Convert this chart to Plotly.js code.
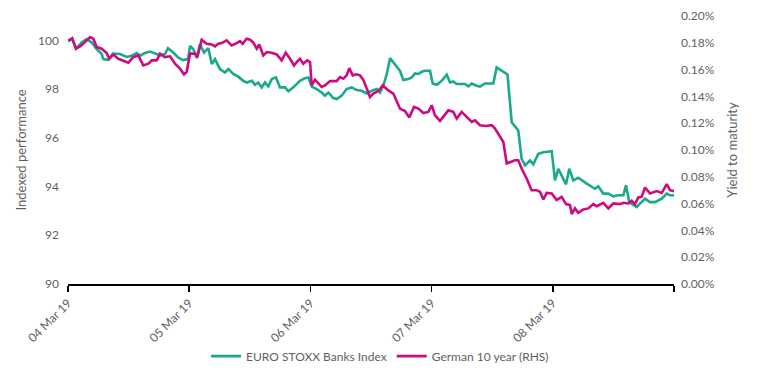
<!DOCTYPE html>
<html>
<head>
<meta charset="utf-8">
<script src="https://cdn.plot.ly/plotly-3.0.1.min.js"></script>
<style>html,body{margin:0;padding:0;background:#fff;}#chart{width:757px;height:378px;}</style>
</head>
<body>
<div id="chart"></div>
<script>
// x positions in trading days since 04 Mar 19
const tickVals = [0, 1, 2, 3, 4, 5];
const tickLabels = ["04 Mar 19", "05 Mar 19", "06 Mar 19", "07 Mar 19", "08 Mar 19", ""];

const bankName = "EURO STOXX Banks Index";
const bankT = [0.002,0.035,0.066,0.113,0.154,0.196,0.237,0.278,0.291,0.330,0.371,0.429,0.484,0.526,0.567,0.594,0.635,0.677,0.732,0.759,0.800,0.825,0.869,0.908,0.949,0.990,1.007,1.034,1.062,1.089,1.122,1.158,1.186,1.213,1.254,1.295,1.323,1.364,1.405,1.446,1.474,1.516,1.543,1.570,1.598,1.625,1.653,1.681,1.716,1.749,1.790,1.818,1.859,1.914,1.955,1.983,2.011,2.052,2.093,2.120,2.148,2.189,2.217,2.258,2.298,2.341,2.382,2.423,2.464,2.506,2.547,2.574,2.602,2.630,2.657,2.698,2.739,2.767,2.808,2.836,2.863,2.891,2.919,2.946,2.987,3.009,3.042,3.083,3.125,3.152,3.179,3.207,3.248,3.276,3.303,3.331,3.372,3.399,3.441,3.482,3.509,3.537,3.578,3.626,3.661,3.715,3.743,3.771,3.812,3.839,3.880,3.922,3.991,4.018,4.045,4.073,4.109,4.136,4.169,4.210,4.241,4.280,4.348,4.375,4.417,4.458,4.499,4.540,4.582,4.604,4.631,4.692,4.719,4.761,4.802,4.843,4.899,4.940,4.967,5.000];
const bankV = [99.95,100.09,99.66,99.91,100.05,99.91,99.64,99.44,99.23,99.20,99.46,99.44,99.32,99.37,99.48,99.37,99.48,99.54,99.44,99.37,99.44,99.68,99.50,99.30,99.19,99.23,99.77,99.64,99.27,99.84,99.50,99.68,99.03,99.23,98.82,98.68,98.82,98.62,98.51,98.34,98.27,98.34,98.18,98.27,98.07,98.27,98.11,98.41,98.48,98.07,98.07,97.91,98.07,98.34,98.45,98.48,98.10,98.00,97.86,97.73,97.86,97.63,97.59,97.73,98.00,98.07,97.96,97.93,97.82,97.93,98.00,97.86,98.14,98.62,99.27,99.00,98.75,98.37,98.41,98.48,98.64,98.62,98.71,98.75,98.75,98.23,98.18,98.34,98.59,98.27,98.31,98.21,98.21,98.21,98.11,98.23,98.14,98.10,98.23,98.23,98.23,98.89,98.75,98.60,96.64,96.30,95.14,94.87,95.07,94.91,95.34,95.41,95.45,94.25,94.73,94.46,94.09,94.73,94.25,94.36,94.25,94.12,93.91,94.01,93.71,93.71,93.60,93.64,93.64,94.05,93.36,93.16,93.30,93.50,93.36,93.36,93.50,93.71,93.64,93.64];

const bundName = "German 10 year (RHS)";
const bundT = [0.002,0.035,0.066,0.099,0.140,0.182,0.209,0.237,0.278,0.319,0.341,0.374,0.415,0.456,0.498,0.539,0.580,0.621,0.663,0.691,0.732,0.759,0.800,0.842,0.883,0.924,0.957,0.979,1.007,1.048,1.067,1.103,1.144,1.186,1.213,1.240,1.268,1.309,1.350,1.392,1.419,1.441,1.474,1.502,1.526,1.557,1.578,1.611,1.640,1.681,1.722,1.763,1.796,1.832,1.865,1.887,1.914,1.941,1.974,1.997,2.011,2.038,2.065,2.093,2.120,2.162,2.217,2.244,2.272,2.299,2.321,2.349,2.382,2.409,2.436,2.464,2.492,2.519,2.560,2.597,2.643,2.684,2.739,2.780,2.816,2.855,2.891,2.932,2.973,3.001,3.028,3.069,3.097,3.138,3.179,3.207,3.248,3.290,3.331,3.358,3.399,3.449,3.496,3.523,3.564,3.592,3.620,3.647,3.688,3.715,3.743,3.784,3.825,3.866,3.894,3.922,3.950,3.991,4.032,4.073,4.109,4.142,4.156,4.183,4.210,4.252,4.293,4.334,4.362,4.417,4.458,4.499,4.554,4.582,4.623,4.650,4.678,4.705,4.733,4.761,4.802,4.857,4.899,4.940,4.967,5.000];
const bundV = [0.1818,0.1830,0.1756,0.1773,0.1805,0.1842,0.1830,0.1768,0.1756,0.1723,0.1681,0.1713,0.1681,0.1664,0.1652,0.1693,0.1706,0.1631,0.1644,0.1669,0.1669,0.1719,0.1693,0.1699,0.1644,0.1607,0.1565,0.1582,0.1719,0.1719,0.1693,0.1823,0.1793,0.1788,0.1773,0.1793,0.1798,0.1818,0.1781,0.1798,0.1813,0.1793,0.1830,0.1823,0.1805,0.1756,0.1788,0.1706,0.1731,0.1726,0.1713,0.1669,0.1726,0.1681,0.1631,0.1656,0.1681,0.1644,0.1669,0.1656,0.1482,0.1525,0.1495,0.1470,0.1482,0.1514,0.1514,0.1544,0.1532,0.1557,0.1611,0.1557,0.1565,0.1557,0.1525,0.1458,0.1395,0.1421,0.1440,0.1482,0.1445,0.1421,0.1309,0.1291,0.1242,0.1321,0.1309,0.1276,0.1284,0.1334,0.1259,0.1217,0.1246,0.1296,0.1284,0.1234,0.1284,0.1246,0.1209,0.1222,0.1185,0.1179,0.1185,0.1160,0.1097,0.1060,0.0899,0.0911,0.0924,0.0924,0.0862,0.0787,0.0700,0.0700,0.0688,0.0631,0.0680,0.0676,0.0626,0.0650,0.0596,0.0589,0.0522,0.0564,0.0531,0.0556,0.0564,0.0596,0.0581,0.0606,0.0564,0.0601,0.0596,0.0606,0.0601,0.0621,0.0596,0.0646,0.0650,0.0720,0.0676,0.0693,0.0680,0.0745,0.0700,0.0693];

const green = "#19a98b";
const magenta = "#cf0a80";
const textColor = "#5f5f5f";
const fontFam = "Lato, 'Open Sans', sans-serif";

const traces = [
  {x: bankT, y: bankV, name: bankName, type: "scatter", mode: "lines",
   line: {color: green, width: 2.6}, yaxis: "y"},
  {x: bundT, y: bundV, name: bundName, type: "scatter", mode: "lines",
   line: {color: magenta, width: 2.6}, yaxis: "y2"}
];

const layout = {
  width: 757, height: 378,
  margin: {l: 68, r: 83, t: 16, b: 94, autoexpand: false},
  paper_bgcolor: "#fff", plot_bgcolor: "#fff",
  font: {family: fontFam, color: textColor, size: 12},
  showlegend: true,
  legend: {orientation: "h", x: 0.515, xanchor: "center", y: -0.215, yanchor: "top",
           font: {size: 12, color: textColor}, itemwidth: 30, tracegroupgap: 0},
  xaxis: {range: [0, 5], tickvals: tickVals, ticktext: tickLabels, tickangle: -45,
          automargin: false,
          showgrid: false, zeroline: false, showline: true, linecolor: "#000", linewidth: 1.5,
          ticks: "outside", ticklen: 6, tickcolor: "#000", tickwidth: 1.5,
          tickfont: {size: 12, color: textColor}},
  yaxis: {range: [90, 101], tickvals: [90, 92, 94, 96, 98, 100], showgrid: false, zeroline: false,
          automargin: false, ticklabelstandoff: 8,
          showline: false, ticks: "", tickfont: {size: 12, color: textColor},
          title: {text: "Indexed performance", font: {size: 13, color: textColor}, standoff: 8}},
  yaxis2: {range: [0, 0.2], dtick: 0.02, tick0: 0, tickformat: ".2f", ticksuffix: "%",
           automargin: false, ticklabelstandoff: 6,
           overlaying: "y", side: "right", showgrid: false, zeroline: false, showline: false,
           ticks: "", tickfont: {size: 12, color: textColor},
           title: {text: "Yield to maturity", font: {size: 13, color: textColor}, standoff: 14}}
};

Plotly.newPlot("chart", traces, layout, {displayModeBar: false, staticPlot: true});
</script>
</body>
</html>
